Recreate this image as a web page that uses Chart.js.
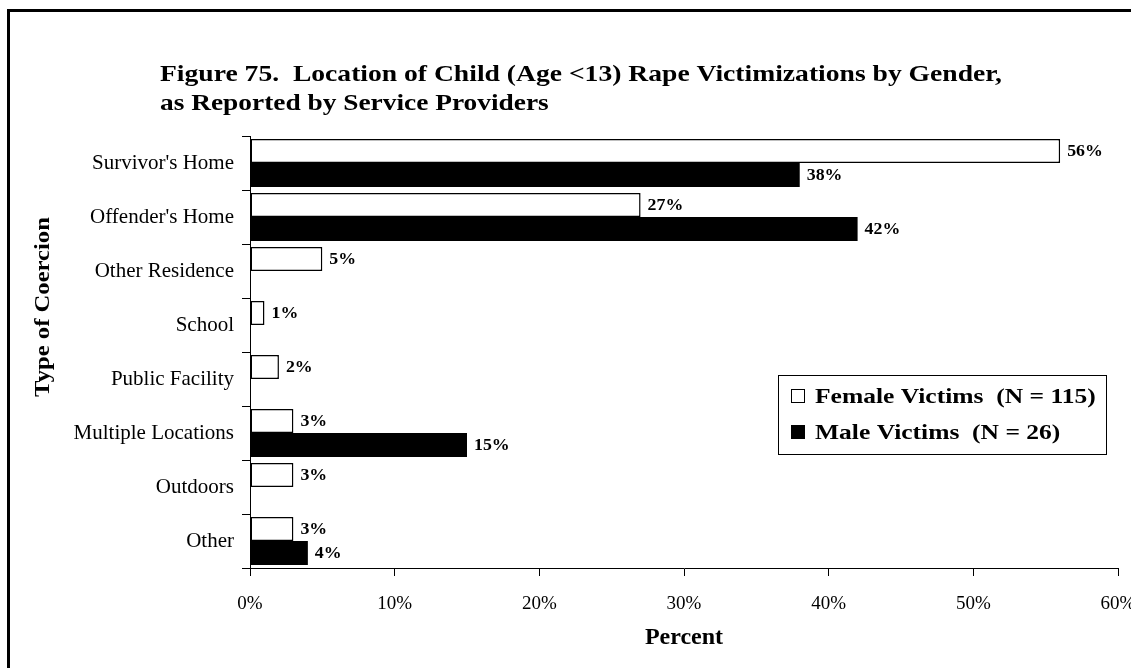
<!DOCTYPE html>
<html>
<head>
<meta charset="utf-8">
<script src="https://cdn.jsdelivr.net/npm/chart.js@4.4.1/dist/chart.umd.min.js"></script>
<style>
  html, body { margin: 0; padding: 0; background: #fff; overflow: hidden; }
  #wrap { position: relative; width: 1131px; height: 668px; }
  #frame { position: absolute; left: 7px; top: 9px; width: 1140px; height: 700px; border: 3px solid #000; box-sizing: border-box; pointer-events: none; }
  canvas { position: absolute; left: 0; top: 0; }
</style>
</head>
<body>
<div id="wrap">
  <canvas id="c" width="1131" height="668"></canvas>
  <div id="frame"></div>
</div>
<script>
const categories = ["Survivor's Home", "Offender's Home", "Other Residence", "School", "Public Facility", "Multiple Locations", "Outdoors", "Other"];
const femaleValues = [56, 27, 5, 1, 2, 3, 3, 3];
const maleValues = [38, 42, null, null, null, 15, null, 4];
const seriesLabels = ["Female Victims  (N = 115)", "Male Victims  (N = 26)"];
const xTicks = [0, 10, 20, 30, 40, 50, 60];
const titleLines = ["Figure 75.  Location of Child (Age <13) Rape Victimizations by Gender,", "as Reported by Service Providers"];
const yAxisTitle = "Type of Coercion";
const xAxisTitle = "Percent";

const FONT = "'Liberation Serif', 'Times New Roman', serif";

function stretchedText(ctx, text, x, y, sx, rot) {
  ctx.save();
  ctx.translate(x, y);
  if (rot) ctx.rotate(rot);
  ctx.scale(sx, 1);
  ctx.fillText(text, 0, 0);
  ctx.restore();
}

const titlePlugin = {
  id: 'customTitle',
  afterDraw(chart) {
    const ctx = chart.ctx;
    ctx.save();
    ctx.fillStyle = '#000';
    ctx.font = "bold 23px " + FONT;
    ctx.textAlign = 'left';
    ctx.textBaseline = 'middle';
    stretchedText(ctx, titleLines[0], 160, 75, 1.2);
    stretchedText(ctx, titleLines[1], 160, 104, 1.19);
    // rotated y-axis title
    ctx.font = "bold 22px " + FONT;
    ctx.textAlign = 'center';
    stretchedText(ctx, yAxisTitle, 43, 307, 1.12, -Math.PI / 2);
    ctx.restore();
  }
};

const labelPlugin = {
  id: 'valueLabels',
  afterDatasetsDraw(chart) {
    const ctx = chart.ctx;
    ctx.save();
    ctx.fillStyle = '#000';
    ctx.font = "bold 17px " + FONT;
    ctx.textAlign = 'left';
    ctx.textBaseline = 'middle';
    chart.data.datasets.forEach((ds, di) => {
      const meta = chart.getDatasetMeta(di);
      meta.data.forEach((bar, i) => {
        const v = ds.data[i];
        if (v === null || v === undefined) return;
        stretchedText(ctx, v + '%', bar.x + 7, bar.y + 1, 1.05);
      });
    });
    ctx.restore();
  }
};

const legendPlugin = {
  id: 'boxLegend',
  afterDraw(chart) {
    const ctx = chart.ctx;
    const x = 778, y = 375, w = 328, h = 79;
    ctx.save();
    ctx.fillStyle = '#fff';
    ctx.fillRect(x, y, w, h);
    ctx.strokeStyle = '#000';
    ctx.lineWidth = 1;
    ctx.strokeRect(x + 0.5, y + 0.5, w, h);
    ctx.font = "bold 22px " + FONT;
    ctx.textAlign = 'left';
    ctx.textBaseline = 'middle';
    const rows = [y + 21, y + 57];
    ctx.fillStyle = '#fff';
    ctx.fillRect(x + 13.5, rows[0] - 6.5, 13, 13);
    ctx.strokeRect(x + 13.5, rows[0] - 6.5, 13, 13);
    ctx.fillStyle = '#000';
    ctx.fillRect(x + 13, rows[1] - 7, 14, 14);
    stretchedText(ctx, seriesLabels[0], x + 37, rows[0] + 1, 1.16);
    stretchedText(ctx, seriesLabels[1], x + 37, rows[1] + 1, 1.16);
    ctx.restore();
  }
};

new Chart(document.getElementById('c'), {
  type: 'bar',
  data: {
    labels: categories,
    datasets: [
      {
        label: seriesLabels[0],
        data: femaleValues,
        backgroundColor: '#ffffff',
        borderColor: '#000000',
        borderWidth: 1.5,
        borderSkipped: false,
        categoryPercentage: 0.89,
        barPercentage: 1.0
      },
      {
        label: seriesLabels[1],
        data: maleValues,
        backgroundColor: '#000000',
        borderColor: '#000000',
        borderWidth: 0,
        categoryPercentage: 0.89,
        barPercentage: 1.0
      }
    ]
  },
  options: {
    indexAxis: 'y',
    responsive: false,
    animation: false,
    devicePixelRatio: 1,
    layout: { padding: { top: 136, left: 24, right: 13, bottom: 0 } },
    plugins: {
      legend: { display: false },
      title: { display: false },
      tooltip: { enabled: false }
    },
    scales: {
      x: {
        min: 0,
        max: 60,
        afterBuildTicks(scale) { scale.ticks = xTicks.map(v => ({ value: v })); },
        afterFit(scale) { scale.height = 100; scale.paddingLeft = 0; scale.paddingRight = 0; },
        ticks: {
          color: '#000',
          font: { family: FONT, size: 19 },
          padding: 17,
          maxRotation: 0,
          autoSkip: false,
          callback: (v) => v + '%'
        },
        grid: { display: true, drawOnChartArea: false, drawTicks: true, tickLength: 8, color: '#000', lineWidth: 1 },
        border: { display: true, color: '#000', width: 1 },
        title: {
          display: true,
          text: xAxisTitle,
          color: '#000',
          font: { family: FONT, size: 24, weight: 'bold' },
          padding: { top: 0, bottom: 16 }
        }
      },
      y: {
        afterFit(scale) { scale.width = 226; },
        ticks: {
          color: '#000',
          font: { family: FONT, size: 21 },
          padding: 8
        },
        grid: { display: true, drawOnChartArea: false, drawTicks: true, tickLength: 8, color: '#000', lineWidth: 1, offset: true },
        border: { display: true, color: '#000', width: 1 },
        title: { display: false }
      }
    }
  },
  plugins: [titlePlugin, labelPlugin, legendPlugin]
});
</script>
</body>
</html>
